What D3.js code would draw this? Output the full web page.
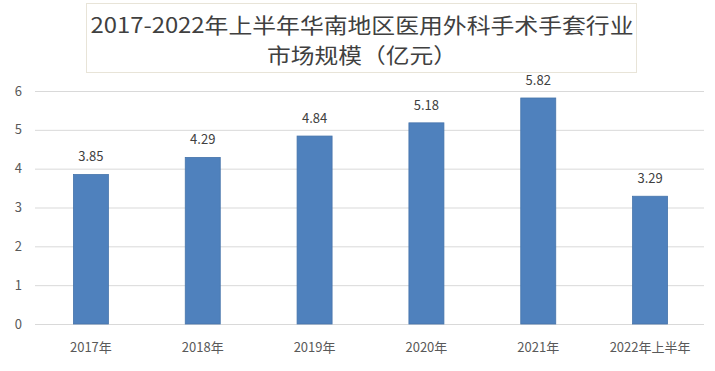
<!DOCTYPE html>
<html>
<head>
<meta charset="utf-8">
<script src="https://cdn.jsdelivr.net/npm/d3@7"></script>
<style>
  body { margin: 0; background: #fff; }
  svg text { font-family: "Noto Sans CJK SC", "Noto Sans", sans-serif; }
</style>
</head>
<body>
<div id="chart"></div>
<script>
// values
var categories = ['2017年', '2018年', '2019年', '2020年', '2021年', '2022年上半年'];
var values = [3.85, 4.29, 4.84, 5.18, 5.82, 3.29];
var yTicks = [0, 1, 2, 3, 4, 5, 6];
var titleLines = ['2017-2022年上半年华南地区医用外科手术手套行业', '市场规模（亿元）'];

var width = 715, height = 371;
var margin = { left: 35, right: 9, top: 91, bottom: 47 };

var svg = d3.select('#chart').append('svg')
    .attr('width', width)
    .attr('height', height);

var x = d3.scaleBand()
    .domain(categories)
    .range([margin.left, width - margin.right])
    .paddingInner(0.687)
    .paddingOuter(0.3435);

var y = d3.scaleLinear()
    .domain([0, 6])
    .range([height - margin.bottom, margin.top]);

// gridlines
svg.append('g')
    .selectAll('line')
    .data(yTicks)
    .enter().append('line')
    .attr('x1', margin.left)
    .attr('x2', width - margin.right - 2)
    .attr('y1', function (d) { return y(d) + 0.5; })
    .attr('y2', function (d) { return y(d) + 0.5; })
    .attr('stroke', '#d9d9d9')
    .attr('stroke-width', 1);

// y tick labels
svg.append('g')
    .selectAll('text')
    .data(yTicks)
    .enter().append('text')
    .attr('x', 22)
    .attr('y', function (d) { return y(d); })
    .attr('dy', '0.35em')
    .attr('text-anchor', 'end')
    .attr('font-size', 13)
    .attr('fill', '#595959')
    .text(function (d) { return d; });

// bars
svg.append('g')
    .selectAll('rect')
    .data(values)
    .enter().append('rect')
    .attr('x', function (d, i) { return x(categories[i]); })
    .attr('width', x.bandwidth())
    .attr('y', function (d) { return y(d); })
    .attr('height', function (d) { return y(0) - y(d); })
    .attr('fill', '#4f81bd')
    .attr('stroke', '#4674ab')
    .attr('stroke-width', 0.8);

// value labels
svg.append('g')
    .selectAll('text')
    .data(values)
    .enter().append('text')
    .attr('x', function (d, i) { return x(categories[i]) + x.bandwidth() / 2; })
    .attr('y', function (d) { return y(d) - 13; })
    .attr('text-anchor', 'middle')
    .attr('font-size', 13)
    .attr('fill', '#404040')
    .text(function (d) { return d.toFixed(2); });

// x labels
svg.append('g')
    .selectAll('text')
    .data(categories)
    .enter().append('text')
    .attr('x', function (d) { return x(d) + x.bandwidth() / 2; })
    .attr('y', height - margin.bottom + 28)
    .attr('text-anchor', 'middle')
    .attr('font-size', 13)
    .attr('fill', '#595959')
    .text(function (d) { return d; });

// title box
svg.append('rect')
    .attr('x', 86.5)
    .attr('y', 3.5)
    .attr('width', 550)
    .attr('height', 69)
    .attr('fill', '#fff')
    .attr('stroke', '#e8e4d8')
    .attr('stroke-width', 1);

svg.append('g')
    .selectAll('text')
    .data(titleLines)
    .enter().append('text')
    .attr('x', 362)
    .attr('y', function (d, i) { return 33 + i * 30; })
    .attr('text-anchor', 'middle')
    .attr('font-size', 21)
    .attr('textLength', function (d, i) { return i === 0 ? 543 : 190; })
    .attr('lengthAdjust', 'spacingAndGlyphs')
    .attr('fill', '#404040')
    .text(function (d) { return d; });
</script>
</body>
</html>
